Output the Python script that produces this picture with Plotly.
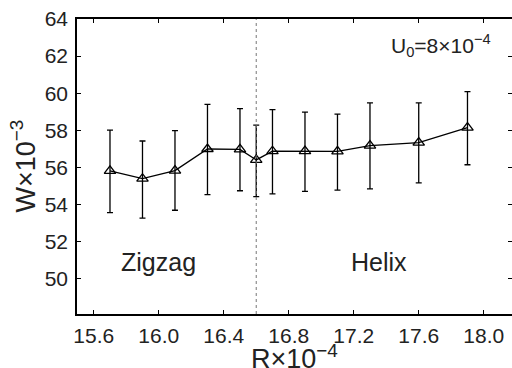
import plotly.graph_objects as go

# Data
R_vals = [15.7, 15.9, 16.1, 16.3, 16.5, 16.6, 16.7, 16.9, 17.1, 17.3, 17.6, 17.9]
W_vals = [55.82, 55.40, 55.84, 57.00, 56.98, 56.41, 56.88, 56.89, 56.87, 57.18, 57.34, 58.15]
W_err_plus = [2.20, 2.03, 2.15, 2.40, 2.19, 1.88, 2.24, 2.10, 2.01, 2.30, 2.14, 1.94]
W_err_minus = [2.25, 2.12, 2.14, 2.46, 2.23, 1.98, 2.30, 2.17, 2.08, 2.33, 2.17, 2.00]
x_ticks = [15.6, 16.0, 16.4, 16.8, 17.2, 17.6, 18.0]
y_ticks = [50, 52, 54, 56, 58, 60, 62, 64]
boundary_R = 16.6

FONT = "Liberation Sans, Arial, Helvetica, sans-serif"
TXT = "#222222"

fig = go.Figure()
fig.add_trace(go.Scatter(
    x=R_vals, y=W_vals, mode="lines+markers",
    line=dict(color="black", width=1.3),
    marker=dict(symbol="triangle-up-open", size=10, color="black",
                line=dict(width=1.3, color="black")),
    error_y=dict(type="data", symmetric=False, array=W_err_plus,
                 arrayminus=W_err_minus, color="black", thickness=1.3, width=3),
    showlegend=False,
))

fig.add_shape(type="line", x0=boundary_R, x1=boundary_R, y0=0, y1=1,
              xref="x", yref="paper",
              line=dict(color="#777777", width=1, dash="dot"))

fig.add_annotation(x=16.0, y=50.91, xref="x", yref="y", text="Zigzag",
                   showarrow=False, font=dict(size=25, color=TXT, family=FONT))
fig.add_annotation(x=17.355, y=50.91, xref="x", yref="y", text="Helix",
                   showarrow=False, font=dict(size=25, color=TXT, family=FONT))
fig.add_annotation(x=18.06, y=62.6, xref="x", yref="y", xanchor="right",
                   text="U<sub>0</sub>=8×10<sup>−4</sup>",
                   showarrow=False, font=dict(size=21, color=TXT, family=FONT))

# Axis titles as annotations (precise placement)
fig.add_annotation(x=0.5, y=0, xref="paper", yref="paper", xanchor="center",
                   yanchor="top", yshift=-24, text="R×10<sup>−4</sup>",
                   showarrow=False, font=dict(size=27, color=TXT, family=FONT))
fig.add_annotation(x=(23 - 77) / 435, y=0.5, xref="paper", yref="paper",
                   xanchor="center", yanchor="middle", textangle=-90,
                   text="W×10<sup>−3</sup>",
                   showarrow=False, font=dict(size=27, color=TXT, family=FONT))

fig.update_xaxes(
    range=[15.497, 18.174], tickvals=x_ticks,
    ticktext=[f"{v:.1f}" for v in x_ticks],
    ticks="inside", ticklen=4, tickwidth=1.2, tickcolor="black",
    showline=True, linecolor="black", linewidth=1.6, mirror="allticks",
    showgrid=False, zeroline=False, automargin=False,
    tickfont=dict(size=21, color=TXT, family=FONT),
    ticklabelstandoff=2,
)
fig.update_yaxes(
    range=[48.114, 64.0], tickvals=y_ticks,
    ticks="inside", ticklen=4, tickwidth=1.2, tickcolor="black",
    showline=True, linecolor="black", linewidth=1.6, mirror="ticks",
    showgrid=False, zeroline=False, automargin=False,
    tickfont=dict(size=21, color=TXT, family=FONT),
    ticklabelstandoff=3,
)

fig.update_layout(
    width=512, height=368,
    margin=dict(l=77, r=0, t=19, b=54),
    paper_bgcolor="white", plot_bgcolor="white",
)

fig.write_html("out.html")
